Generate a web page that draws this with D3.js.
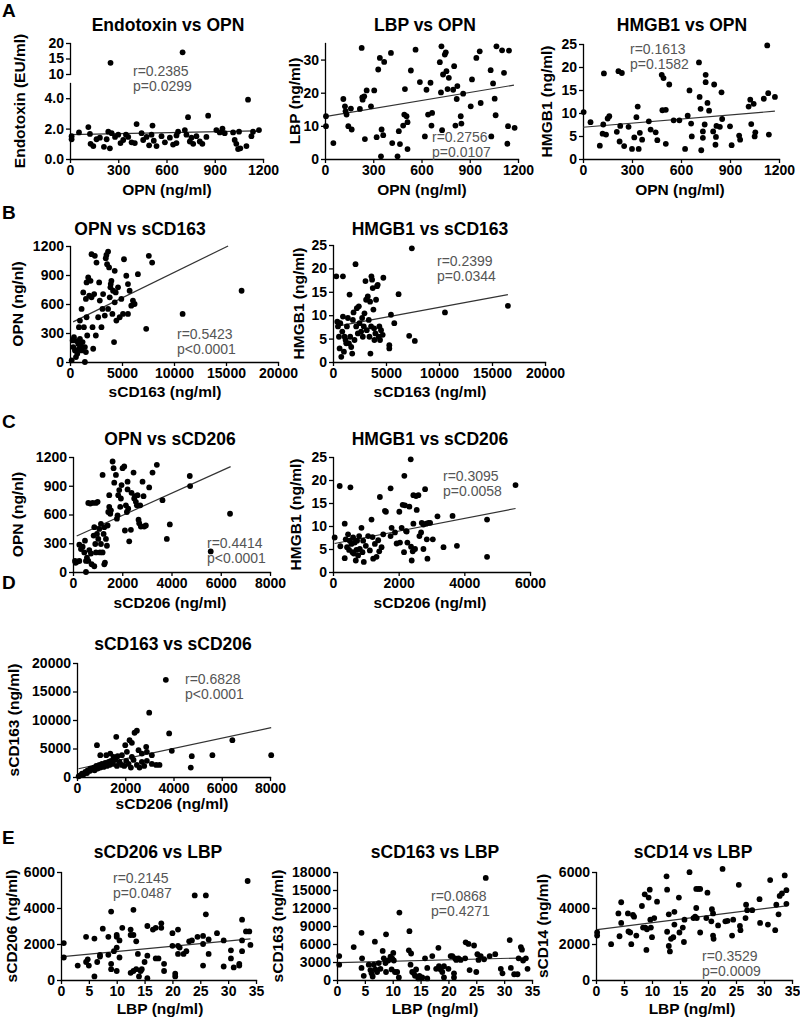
<!DOCTYPE html>
<html>
<head>
<meta charset="utf-8">
<script src="https://cdn.jsdelivr.net/npm/d3@7"></script>
<style>
  body { margin: 0; background: #fff; }
  svg text { font-family: "Liberation Sans", Arial, sans-serif; }
  .axis path, .axis line { stroke: #000; stroke-width: 1.3px; }
  .axis text { font-size: 14px; font-weight: bold; fill: #000; }
  .title { font-size: 17.5px; font-weight: bold; }
  .alabel { font-size: 15.5px; font-weight: bold; }
  .stat { font-size: 14px; fill: #555; }
  .letter { font-size: 19px; font-weight: bold; }
</style>
</head>
<body>
<svg id="fig" width="800" height="1030"></svg>
<script>
// ---- data ----

// A: Endotoxin vs OPN  [OPN, endotoxin]
const endotoxinVsOpn = [[10,1.5],[10,1.3],[56,1.75],[114,2.1],[124,1.65],[128,1.0],[145,0.85],[165,1.3],[186,1.4],[211,0.8],[228,1.3],[238,1.8],[248,0.7],[252,13.6],[259,1.7],[280,1.45],[300,1.6],[314,1.05],[331,1.25],[348,1.6],[362,1.45],[383,1.1],[403,1.05],[414,2.3],[445,1.7],[455,1.25],[476,1.45],[492,0.9],[507,1.6],[513,2.2],[521,1.2],[538,0.85],[569,1.5],[590,1.1],[621,1.4],[641,0.95],[662,1.55],[662,1.05],[672,1.8],[700,17.0],[714,1.9],[724,1.6],[734,2.75],[745,1.15],[755,1.4],[766,1.0],[786,1.5],[807,1.15],[823,1.0],[848,1.45],[859,2.85],[910,1.9],[931,1.75],[948,2.0],[962,1.7],[1014,1.75],[1024,1.25],[1034,1.0],[1045,0.65],[1051,1.8],[1059,0.7],[1097,0.85],[1107,3.9],[1128,1.5],[1138,1.8],[1175,1.9]];
const fitEndotoxinVsOpn = [[0,1.6],[1180,1.85]];

// A: LBP vs OPN  [OPN, LBP]
const lbpVsOpn = [[6,9.9],[6,12.9],[52,4.8],[114,18.1],[124,15.9],[128,14.4],[134,13.4],[145,9.9],[161,15.2],[166,8.9],[217,15.1],[228,33.5],[232,18.6],[234,17.9],[244,18.9],[248,6.0],[259,20.7],[286,15.9],[306,20.7],[321,6.6],[331,27.0],[341,30.5],[348,0.8],[352,8.9],[362,7.2],[368,29.3],[410,32.0],[418,4.8],[451,0.8],[459,8.4],[466,4.5],[486,10.1],[493,13.4],[497,21.1],[507,12.9],[513,11.1],[513,3.0],[534,26.7],[563,33.0],[590,23.2],[621,6.8],[631,20.9],[641,13.4],[656,23.0],[662,10.1],[666,13.9],[714,29.2],[721,20.1],[724,34.0],[728,8.7],[734,25.5],[745,31.5],[751,32.2],[755,26.5],[762,21.1],[770,24.5],[797,20.9],[803,28.0],[811,10.1],[819,18.1],[823,22.0],[844,12.9],[848,10.7],[859,19.7],[906,15.9],[914,24.0],[941,30.5],[962,32.5],[968,16.9],[1030,26.8],[1034,6.8],[1045,22.8],[1055,18.2],[1061,13.2],[1066,34.0],[1101,32.8],[1113,26.0],[1134,4.6],[1138,9.9],[1144,32.7],[1179,9.4]];
const fitLbpVsOpn = [[0,12.8],[1175,22.3]];

// A: HMGB1 vs OPN  [OPN, HMGB1]
const hmgb1VsOpn = [[4,10.2],[46,8.0],[103,2.9],[120,5.5],[124,7.5],[128,18.6],[141,5.3],[151,8.8],[161,9.3],[207,5.9],[217,19.1],[224,3.8],[228,7.2],[238,18.7],[252,2.8],[279,7.0],[300,2.2],[314,4.7],[327,9.1],[335,11.4],[341,2.2],[348,5.7],[362,4.2],[403,8.2],[414,6.4],[445,5.8],[455,4.1],[482,18.3],[493,17.6],[486,10.6],[507,10.7],[507,3.3],[528,16.2],[555,8.4],[590,8.4],[625,2.2],[641,9.4],[652,14.9],[662,7.7],[666,4.9],[710,21.0],[714,13.5],[720,10.9],[724,1.9],[734,6.0],[734,4.6],[745,7.5],[751,18.3],[751,16.7],[762,12.2],[772,10.5],[797,6.0],[803,16.2],[811,3.1],[814,4.8],[817,7.2],[838,7.0],[848,14.5],[852,8.7],[900,7.1],[910,3.0],[956,5.1],[962,4.2],[1014,11.4],[1024,12.9],[1030,7.6],[1045,12.0],[1051,4.9],[1055,5.8],[1107,13.1],[1128,24.7],[1134,14.3],[1138,5.3],[1175,13.5]];
const fitHmgb1VsOpn = [[0,6.9],[1175,10.4]];

// B: OPN vs sCD163  [sCD163, OPN]
const opnVsScd163 = [[160,17],[255,223],[318,154],[382,257],[478,120],[573,51],[637,216],[700,86],[796,189],[860,137],[860,360],[955,240],[955,429],[1019,171],[1115,120],[1115,549],[1210,206],[1274,720],[1338,360],[1433,0],[1433,154],[1529,103],[1529,652],[1593,463],[1593,823],[1656,274],[1752,875],[1847,686],[1975,840],[2070,1115],[2070,669],[2166,360],[2229,137],[2325,703],[2389,1098],[2484,274],[2548,1029],[2707,463],[2803,823],[2866,635],[3025,360],[3121,549],[3185,703],[3344,480],[3440,1074],[3504,1108],[3567,1012],[3663,1142],[3663,549],[3758,978],[3822,669],[3886,772],[3918,806],[3981,840],[4077,497],[4141,737],[4236,206],[4300,943],[4300,617],[4395,720],[4459,429],[4618,772],[4777,463],[4936,652],[5096,497],[5191,1063],[5414,892],[5573,806],[5573,497],[5733,737],[5892,583],[6051,635],[6210,600],[6529,909],[7326,343],[7580,1098],[7899,1029],[10829,497],[16500,737]];
const fitOpnVsScd163 = [[300,415],[15200,1200]];

// B: HMGB1 vs sCD163  [sCD163, HMGB1]
const hmgb1VsScd163 = [[312,18.3],[937,18.3],[406,8.6],[469,7.6],[562,5.4],[625,2.9],[781,1.1],[687,8.3],[875,6.5],[937,9.7],[1031,2.2],[1094,5.4],[1187,4.7],[1250,4.0],[1312,7.6],[1406,9.4],[1500,4.0],[1562,14.4],[1625,5.4],[1719,3.2],[1812,1.8],[1875,9.0],[1937,10.6],[2031,4.7],[2125,20.9],[2187,7.6],[2250,11.5],[2344,6.1],[2437,11.9],[2500,8.3],[2656,6.5],[2750,9.4],[2812,5.4],[2906,7.6],[2969,10.4],[3062,17.3],[3125,13.3],[3187,6.8],[3281,14.0],[3375,9.0],[3437,5.4],[3500,12.9],[3531,1.8],[3594,7.6],[3625,18.3],[3687,17.6],[3750,15.8],[3812,11.2],[3875,7.2],[3906,4.7],[4000,6.1],[4062,13.3],[4156,16.2],[4219,16.5],[4312,5.4],[4375,7.6],[4437,4.7],[4531,6.8],[4687,5.8],[4750,18.0],[5312,3.6],[5312,2.9],[5469,10.1],[5781,8.3],[6187,14.5],[7187,5.6],[7437,24.3],[7719,4.5],[10562,10.6],[16500,12.0]];
const fitHmgb1VsScd163 = [[300,7.6],[16500,14.4]];

// C: OPN vs sCD206  [sCD206, OPN]
const opnVsScd206 = [[81,116],[189,109],[106,96],[257,116],[527,0],[865,60],[1270,80],[621,116],[257,285],[324,239],[392,264],[459,204],[486,327],[527,116],[567,151],[621,721],[662,229],[702,714],[729,193],[756,81],[797,721],[838,380],[865,468],[905,292],[932,721],[932,204],[973,397],[1000,732],[1027,345],[1067,450],[1094,204],[1135,292],[1135,503],[1202,1013],[1202,204],[1243,397],[1270,468],[1297,98],[1337,345],[1378,274],[1405,485],[1432,626],[1472,679],[1472,802],[1513,608],[1540,644],[1608,1153],[1648,1083],[1675,932],[1743,1013],[1783,556],[1810,591],[1837,802],[1878,855],[1918,679],[1945,767],[1972,907],[2013,1083],[2081,1101],[2108,433],[2148,696],[2189,626],[2216,943],[2216,862],[2243,661],[2283,320],[2351,440],[2378,826],[2459,1037],[2486,767],[2513,791],[2553,732],[2594,696],[2621,802],[2662,545],[2689,510],[2729,696],[2756,475],[2824,943],[2864,791],[2891,475],[2959,485],[3094,883],[3229,1037],[3405,1118],[3634,749],[3810,345],[3932,496],[4742,1002],[4756,897],[5593,215],[6377,608]];
const fitOpnVsScd206 = [[150,375],[6400,1100]];

// C: HMGB1 vs sCD206  [sCD206, HMGB1]
const hmgb1VsScd206 = [[51,7.5],[204,18.7],[224,5.6],[357,10.5],[357,3.0],[388,7.1],[428,5.4],[459,8.2],[490,4.8],[510,6.8],[530,18.4],[561,6.1],[592,4.3],[612,7.5],[632,4.0],[663,6.4],[694,2.5],[714,4.8],[734,6.8],[765,3.6],[796,7.8],[816,5.0],[867,9.6],[898,4.3],[918,6.8],[938,2.2],[1000,5.7],[1071,7.8],[1122,4.7],[1173,11.4],[1204,7.6],[1224,2.9],[1275,6.1],[1326,3.3],[1377,6.9],[1408,4.5],[1428,16.3],[1479,5.4],[1530,8.2],[1581,13.3],[1612,13.1],[1754,18.2],[1754,7.8],[1785,9.6],[1887,8.6],[1938,6.2],[2020,13.1],[2040,6.4],[2091,9.6],[2122,14.6],[2163,4.3],[2173,20.9],[2193,14.5],[2224,8.9],[2244,8.8],[2265,6.4],[2326,14.2],[2367,24.5],[2377,5.5],[2397,2.5],[2428,4.5],[2448,16.7],[2448,10.5],[2499,5.0],[2530,16.5],[2550,13.5],[2601,16.7],[2632,7.8],[2683,8.6],[2703,10.7],[2754,10.3],[2754,5.0],[2805,18.0],[2836,10.5],[2856,7.1],[2876,2.9],[2907,10.7],[2958,10.7],[3040,7.1],[3182,12.1],[3366,5.4],[3641,12.2],[3774,5.7],[4692,11.4],[4692,3.3],[5559,18.9]];
const fitHmgb1VsScd206 = [[50,6.2],[5560,13.8]];

// D: sCD163 vs sCD206  [sCD206, sCD163]
const scd163VsScd206 = [[69,118],[138,294],[207,588],[276,470],[345,882],[414,706],[441,1176],[524,1058],[552,1470],[620,1294],[690,1646],[731,1176],[800,1940],[827,5586],[855,1470],[924,2117],[965,1646],[965,3822],[1034,2293],[1103,1764],[1172,2470],[1213,3822],[1241,1940],[1310,2646],[1351,2117],[1379,4116],[1407,2822],[1489,2293],[1517,3528],[1586,2999],[1627,7056],[1655,1940],[1682,3646],[1765,2646],[1862,3822],[1862,2117],[1958,1940],[2000,5586],[2041,2822],[2068,4410],[2137,2293],[2179,6468],[2234,1646],[2275,5998],[2275,3528],[2344,2999],[2386,7762],[2482,8114],[2482,2117],[2551,4704],[2592,1646],[2689,4116],[2689,2646],[2786,1940],[2868,5292],[2896,4410],[2896,2822],[2993,11290],[3103,3822],[3103,2293],[3282,2117],[3420,2117],[3682,17052],[3820,7644],[3930,4586],[4716,1646],[4758,3646],[5613,3822],[6440,6468],[8050,3822]];
const fitScd163VsScd206 = [[60,1450],[8050,8650]];

// E: sCD206 vs LBP  [LBP, sCD206]
const scd206VsLbp = [[0.5,2050],[0.5,1250],[3,800],[4.5,2400],[4.5,1000],[4.8,1150],[5,800],[6,2300],[6,200],[6.5,1000],[7,1300],[7,1400],[7.5,2850],[8.5,2400],[8.5,1400],[9,3800],[9,900],[9,600],[9.5,1600],[10,2400],[10,2500],[10,1800],[10,500],[10.5,1250],[10.5,2200],[11,2900],[12.5,2800],[12.5,2500],[12.5,400],[13,3900],[13,2500],[13,500],[13.5,2150],[13.5,600],[13.8,1450],[14,200],[14.3,500],[14.5,600],[15,1000],[15.5,1350],[15.5,3000],[15.5,100],[16.5,2800],[17,2900],[17,1200],[18,3150],[18,2900],[17.5,1200],[18.5,900],[18.5,500],[20,2600],[20,1900],[20.5,200],[20.5,350],[21,1450],[21,1900],[21,2800],[21.3,1800],[22,1450],[22.5,1600],[23,2150],[23.5,2200],[24,4700],[24.5,2400],[25.5,800],[25.5,2000],[25.5,2450],[26,4700],[26,3650],[26.5,2250],[26.5,1450],[28,2600],[29.2,2200],[29.2,750],[30.5,1200],[30.5,1650],[31,700],[32,900],[32,800],[32.5,3350],[32.5,2200],[32.5,1600],[33.2,2700],[33.5,5500],[33.8,2700],[34,1950]];
const fitScd206VsLbp = [[0.3,1300],[34,2280]];

// E: sCD163 vs LBP  [LBP, sCD163]
const scd163VsLbp = [[0.4,3990],[0.4,2550],[3.0,5480],[4.4,7870],[4.5,3620],[4.4,2020],[4.8,690],[5.7,2550],[6.0,1650],[6.2,1120],[6.4,585],[6.8,6380],[6.6,2550],[6.9,1760],[7.2,1330],[7.5,2820],[7.8,1860],[8.2,4840],[8.4,3620],[8.8,7610],[8.7,2820],[8.8,1330],[9.2,3250],[9.6,3880],[9.8,1760],[9.9,3620],[10.1,4520],[10.2,3250],[10.4,1330],[10.8,1330],[11.2,11230],[11.1,430],[13.0,8140],[12.9,4950],[13.3,4420],[13.2,2550],[13.5,1330],[13.8,1120],[14.0,690],[14.2,1760],[14.6,270],[14.8,690],[15.3,430],[15.8,3620],[16.2,2020],[16.2,270],[17.1,3990],[17.8,1860],[18.2,5370],[18.3,2290],[18.6,1760],[18.9,1330],[19.2,2290],[19.2,430],[20.0,1860],[20.4,3990],[20.7,3990],[21.0,1120],[21.0,430],[21.2,3620],[21.4,3350],[21.8,3620],[22.2,3350],[23.0,3620],[23.1,6280],[23.6,6010],[23.8,1650],[24.6,5750],[25.0,1330],[25.2,4310],[25.4,3350],[25.8,3990],[26.4,3460],[26.7,17020],[27.4,3990],[28.4,4310],[29.4,1860],[29.7,1120],[31.0,6650],[31.2,2020],[31.8,960],[32.4,960],[32.6,3620],[33.0,5480],[33.2,5050],[33.4,3250],[33.9,3620],[34.2,1860]];
const fitScd163VsLbp = [[0.3,2900],[34.2,3700]];

// E: sCD14 vs LBP  [LBP, sCD14]
const scd14VsLbp = [[0.2,2640],[0.2,2470],[2.7,1990],[4.0,3700],[4.5,4320],[4.2,2430],[4.5,3170],[5.7,3700],[5.8,2700],[6.1,2640],[6.3,1990],[6.6,3610],[6.8,3520],[7.2,2470],[8.2,4110],[8.4,2910],[8.7,4760],[8.8,2910],[9.0,1670],[9.1,2820],[9.4,4580],[9.6,5020],[9.7,3350],[9.8,2910],[10.0,2380],[10.4,3440],[10.9,4350],[12.6,5760],[12.7,5020],[12.7,2680],[13.0,3650],[13.0,1890],[13.2,1590],[13.4,2290],[13.8,2380],[14.0,3790],[14.0,3080],[14.8,4580],[14.9,2640],[15.5,2910],[15.7,2110],[15.8,3350],[16.7,5990],[17.4,3440],[17.7,3520],[17.9,4000],[17.9,5060],[18.3,5060],[18.6,5060],[18.6,2640],[18.0,3440],[19.7,3440],[19.9,4850],[20.6,3260],[20.7,3930],[20.9,3700],[20.9,2470],[21.0,2290],[21.8,3030],[22.6,6170],[23.1,3260],[23.5,3290],[24.3,2470],[24.5,3350],[25.5,5290],[25.7,3000],[25.8,2770],[26.7,3440],[26.8,4180],[27.0,3880],[27.9,3880],[29.2,4490],[29.3,3170],[30.7,3080],[31.1,5550],[32.0,2770],[32.2,4180],[32.6,3650],[32.8,4670],[33.2,4810],[33.7,5810],[34.0,4990],[34.0,4230]];
const fitScd14VsLbp = [[0.2,2800],[34,4120]];

// tick values
const opnTicks = [0, 300, 600, 900, 1200];
const scd163Ticks = [0, 5000, 10000, 15000, 20000];
const scd206Ticks8 = [0, 2000, 4000, 6000, 8000];
const scd206Ticks6 = [0, 2000, 4000, 6000];
const lbpTicks = [0, 5, 10, 15, 20, 25, 30, 35];
const endotoxinLowTicks = [0, 2, 4];
const endotoxinHighTicks = [10, 15, 20];
const lbpYTicks = [0, 10, 20, 30];
const hmgb1Ticks = [0, 5, 10, 15, 20, 25];
const scd163YTicks = [0, 5000, 10000, 15000, 20000];
const scd163LbpTicks = [0, 3000, 6000, 9000, 12000, 15000, 18000];
const ngTicks6000 = [0, 2000, 4000, 6000];

// correlation text
const statR = ["r=0.2385", "r=0.2756", "r=0.1613", "r=0.5423", "r=0.2399", "r=0.4414", "r=0.3095", "r=0.6828", "r=0.2145", "r=0.0868", "r=0.3529"];
const statP = ["p=0.0299", "p=0.0107", "p=0.1582", "p<0.0001", "p=0.0344", "p<0.0001", "p=0.0058", "p<0.0001", "p=0.0487", "p=0.4271", "p=0.0009"];

const panelLetters = ["A", "B", "C", "D", "E"];

// ---- drawing ----
const svg = d3.select("#fig");

const panels = [
  { title: "Endotoxin vs OPN", xl: "OPN (ng/ml)", yl: "Endotoxin (EU/ml)", data: endotoxinVsOpn, fit: fitEndotoxinVsOpn,
    xd: [0, 1200], xr: [70, 263], xt: opnTicks, yr: [159, 43], broken: true,
    tp: [168, 31], xlp: [167, 195], ylx: 20, st: [133, 76] },
  { title: "LBP vs OPN", xl: "OPN (ng/ml)", yl: "LBP (ng/ml)", data: lbpVsOpn, fit: fitLbpVsOpn,
    xd: [0, 1200], xr: [325, 518], xt: opnTicks, yd: [0, 35], yr: [159, 43], yt: lbpYTicks,
    tp: [425, 31], xlp: [422, 195], ylx: 295, st: [432, 142] },
  { title: "HMGB1 vs OPN", xl: "OPN (ng/ml)", yl: "HMGB1 (ng/ml)", data: hmgb1VsOpn, fit: fitHmgb1VsOpn,
    xd: [0, 1200], xr: [583, 779], xt: opnTicks, yd: [0, 25], yr: [159, 44], yt: hmgb1Ticks,
    tp: [682, 31], xlp: [680, 195], ylx: 547, st: [630, 54] },
  { title: "OPN vs sCD163", xl: "sCD163 (ng/ml)", yl: "OPN (ng/nl)", data: opnVsScd163, fit: fitOpnVsScd163,
    xd: [0, 20000], xr: [70, 278], xt: scd163Ticks, yd: [0, 1200], yr: [362, 246], yt: opnTicks,
    tp: [140, 235], xlp: [165, 397], ylx: 18, st: [177, 339] },
  { title: "HMGB1 vs sCD163", xl: "sCD163 (ng/ml)", yl: "HMGB1 (ng/ml)", data: hmgb1VsScd163, fit: fitHmgb1VsScd163,
    xd: [0, 20000], xr: [333, 545], xt: scd163Ticks, yd: [0, 25], yr: [362, 245], yt: hmgb1Ticks,
    tp: [430, 235], xlp: [430, 397], ylx: 299, st: [437, 266] },
  { title: "OPN vs sCD206", xl: "sCD206 (ng/ml)", yl: "OPN (ng/nl)", data: opnVsScd206, fit: fitOpnVsScd206,
    xd: [0, 8000], xr: [73, 270], xt: scd206Ticks8, yd: [0, 1200], yr: [572, 457], yt: opnTicks,
    tp: [170, 445], xlp: [170, 608], ylx: 18, st: [207, 548] },
  { title: "HMGB1 vs sCD206", xl: "sCD206 (ng/ml)", yl: "HMGB1 (ng/ml)", data: hmgb1VsScd206, fit: fitHmgb1VsScd206,
    xd: [0, 6000], xr: [333, 530], xt: scd206Ticks6, yd: [0, 25], yr: [572, 457], yt: hmgb1Ticks,
    tp: [430, 445], xlp: [430, 608], ylx: 296, st: [443, 481] },
  { title: "sCD163 vs sCD206", xl: "sCD206 (ng/ml)", yl: "sCD163 (ng/ml)", data: scd163VsScd206, fit: fitScd163VsScd206,
    xd: [0, 8000], xr: [77, 270], xt: scd206Ticks8, yd: [0, 20000], yr: [777, 663], yt: scd163YTicks,
    tp: [173, 650], xlp: [172, 809], ylx: 14, st: [185, 684] },
  { title: "sCD206 vs LBP", xl: "LBP (ng/ml)", yl: "sCD206 (ng/ml)", data: scd206VsLbp, fit: fitScd206VsLbp,
    xd: [0, 35], xr: [61, 256], xt: lbpTicks, yd: [0, 6000], yr: [980, 872], yt: ngTicks6000,
    tp: [158, 858], xlp: [160, 1014], ylx: 12, st: [113, 883] },
  { title: "sCD163 vs LBP", xl: "LBP (ng/ml)", yl: "sCD163 (ng/ml)", data: scd163VsLbp, fit: fitScd163VsLbp,
    xd: [0, 35], xr: [337, 532], xt: lbpTicks, yd: [0, 18000], yr: [980, 872], yt: scd163LbpTicks,
    tp: [435, 858], xlp: [435, 1014], ylx: 278, st: [431, 901] },
  { title: "sCD14 vs LBP", xl: "LBP (ng/ml)", yl: "sCD14 (ng/ml)", data: scd14VsLbp, fit: fitScd14VsLbp,
    xd: [0, 35], xr: [596, 792], xt: lbpTicks, yd: [0, 6000], yr: [980, 872], yt: ngTicks6000,
    tp: [693, 858], xlp: [692, 1014], ylx: 543, st: [702, 961] }
];

const letterPos = [[2, 17], [2, 219], [2, 428], [2, 589], [2, 844]];

function drawPanel(p, i) {
  const g = svg.append("g");
  const x = d3.scaleLinear().domain(p.xd).range(p.xr);
  let yOf, yFit;

  // x axis
  g.append("g").attr("class", "axis")
    .attr("transform", `translate(0,${p.yr[0]})`)
    .call(d3.axisBottom(x).tickValues(p.xt).tickSize(4).tickSizeOuter(0).tickPadding(2).tickFormat(d3.format("d")));

  if (p.broken) {
    // split y axis: 0-5 below, 10-20 above
    const yLow = d3.scaleLinear().domain([0, 5]).range([p.yr[0], 83]);
    const yHigh = d3.scaleLinear().domain([10, 20]).range([74, p.yr[1]]);
    g.append("g").attr("class", "axis").attr("transform", `translate(${p.xr[0]},0)`)
      .call(d3.axisLeft(yLow).tickValues(endotoxinLowTicks).tickSize(4).tickSizeOuter(0).tickPadding(2));
    g.append("g").attr("class", "axis").attr("transform", `translate(${p.xr[0]},0)`)
      .call(d3.axisLeft(yHigh).tickValues(endotoxinHighTicks).tickSize(4).tickSizeOuter(0).tickPadding(2));
    yOf = v => v >= 8 ? yHigh(v) : yLow(v);
    yFit = yLow;
  } else {
    const y = d3.scaleLinear().domain(p.yd).range(p.yr);
    g.append("g").attr("class", "axis").attr("transform", `translate(${p.xr[0]},0)`)
      .call(d3.axisLeft(y).tickValues(p.yt).tickSize(4).tickSizeOuter(0).tickPadding(2).tickFormat(d3.format("d")));
    yOf = y;
    yFit = y;
  }
  g.selectAll(".axis .domain").attr("stroke-linecap", "square");

  // fit line
  g.append("path")
    .attr("d", d3.line().x(d => x(d[0])).y(d => yFit(d[1]))(p.fit))
    .attr("fill", "none").attr("stroke", "#333").attr("stroke-width", 1.2);

  // points
  g.selectAll("circle").data(p.data).join("circle")
    .attr("cx", d => x(d[0])).attr("cy", d => yOf(d[1]))
    .attr("r", 2.9).attr("fill", "#000");

  // texts
  g.append("text").attr("class", "title").attr("x", p.tp[0]).attr("y", p.tp[1])
    .attr("text-anchor", "middle").text(p.title);
  g.append("text").attr("class", "alabel").attr("x", p.xlp[0]).attr("y", p.xlp[1])
    .attr("text-anchor", "middle").text(p.xl);
  const yMid = (p.yr[0] + p.yr[1]) / 2;
  g.append("text").attr("class", "alabel")
    .attr("transform", `translate(${p.ylx},${yMid}) rotate(-90)`)
    .attr("text-anchor", "middle").attr("dy", "0.35em").text(p.yl);
  g.append("text").attr("class", "stat").attr("x", p.st[0]).attr("y", p.st[1]).text(statR[i]);
  g.append("text").attr("class", "stat").attr("x", p.st[0]).attr("y", p.st[1] + 15).text(statP[i]);
}

panels.forEach(drawPanel);

panelLetters.forEach((l, i) => {
  svg.append("text").attr("class", "letter")
    .attr("x", letterPos[i][0]).attr("y", letterPos[i][1]).text(l);
});
</script>
</body>
</html>
